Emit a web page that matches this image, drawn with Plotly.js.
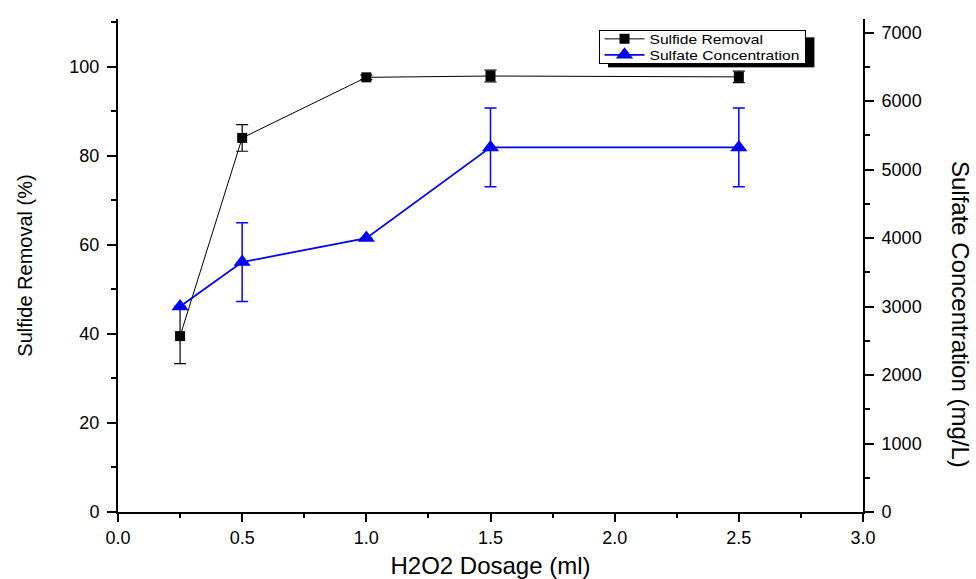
<!DOCTYPE html>
<html>
<head>
<meta charset="utf-8">
<script src="https://cdn.plot.ly/plotly-3.0.1.min.js"></script>
<style>
  html, body { margin: 0; padding: 0; background: #fff; }
  #chart { width: 976px; height: 579px; }
</style>
</head>
<body>
<div id="chart"></div>
<script>
// ---- data ----
const dosage = [0.25, 0.5, 1.0, 1.5, 2.5];               // H2O2 dosage (ml)
const sulfideRemoval = [39.5, 84.0, 97.6, 97.9, 97.7];    // %
const sulfideErr = [6.2, 3.0, 0.5, 1.3, 1.3];
const sulfateConc = [3000, 3650, 4000, 5325, 5325];       // mg/L
const sulfateErr = [0, 575, 0, 575, 575];
const seriesNames = ['Sulfide Removal', 'Sulfate Concentration'];
const xTitle = 'H2O2 Dosage (ml)';
const yTitle = 'Sulfide Removal (%)';
const y2Title = 'Sulfate Concentration (mg/L)';

const FONT = 'Liberation Sans, Arial, sans-serif';

const traces = [
  {
    x: dosage, y: sulfideRemoval, name: seriesNames[0],
    type: 'scatter', mode: 'lines+markers',
    line: { color: '#000000', width: 1 },
    marker: { symbol: 'square', size: 10, color: '#000000' },
    error_y: { type: 'data', array: sulfideErr, visible: true, color: '#000000', thickness: 1.2, width: 6 },
    xaxis: 'x', yaxis: 'y'
  },
  {
    x: dosage, y: sulfateConc, name: seriesNames[1],
    type: 'scatter', mode: 'lines+markers',
    line: { color: '#0000ff', width: 1.8 },
    marker: { symbol: 'triangle-up', size: 15, color: '#0000ff' },
    error_y: { type: 'data', array: sulfateErr, visible: true, color: '#0000ff', thickness: 1.5, width: 6 },
    xaxis: 'x', yaxis: 'y2'
  }
];

const axisCommon = {
  showgrid: false, zeroline: false, showline: true,
  linecolor: '#000', linewidth: 2, tickcolor: '#000', tickwidth: 2,
  tickfont: { family: FONT, size: 18, color: '#000' }
};

const layout = {
  width: 976, height: 579,
  margin: { l: 118, r: 113, t: 19, b: 67, pad: 0 },
  paper_bgcolor: '#fff', plot_bgcolor: '#fff',
  font: { family: FONT, color: '#000' },
  showlegend: true,
  legend: {
    x: 0.645, y: 0.978, xanchor: 'left', yanchor: 'top',
    bgcolor: '#fff', bordercolor: '#000', borderwidth: 1,
    font: { family: FONT, size: 13, color: '#000' },
    itemwidth: 40, tracegroupgap: 0
  },
  xaxis: Object.assign({}, axisCommon, {
    range: [0, 3], tick0: 0, dtick: 0.5, tickformat: '.1f',
    ticks: 'outside', ticklen: 8,
    minor: { dtick: 0.25, ticks: 'outside', ticklen: 4, tickwidth: 2, tickcolor: '#000', showgrid: false },
    title: { text: xTitle, font: { family: FONT, size: 24, color: '#000' }, standoff: 12 },
    anchor: 'y'
  }),
  xaxis2: Object.assign({}, axisCommon, {
    range: [0, 3], tick0: 0, dtick: 0.5, overlaying: 'x', side: 'top', anchor: 'y',
    ticks: 'inside', ticklen: 7, showticklabels: false,
    minor: { dtick: 0.25, ticks: 'inside', ticklen: 4, tickwidth: 2, tickcolor: '#000', showgrid: false }
  }),
  yaxis: Object.assign({}, axisCommon, {
    range: [0, 110.7], tick0: 0, dtick: 20,
    ticks: 'outside', ticklen: 9, ticklabelstandoff: 4,
    minor: { dtick: 10, ticks: 'outside', ticklen: 5, tickwidth: 2, tickcolor: '#000', showgrid: false },
    title: { text: yTitle, font: { family: FONT, size: 20, color: '#000' }, standoff: 31 },
    anchor: 'x'
  }),
  yaxis2: Object.assign({}, axisCommon, {
    range: [0, 7200], tick0: 0, dtick: 1000, overlaying: 'y', side: 'right', anchor: 'x',
    ticks: 'outside', ticklen: 9, ticklabelstandoff: 4,
    minor: { dtick: 500, ticks: 'outside', ticklen: 5, tickwidth: 2, tickcolor: '#000', showgrid: false }
  }),
  annotations: [{
    text: y2Title, xref: 'paper', yref: 'paper', x: 1.13, y: 0.40,
    xanchor: 'center', yanchor: 'middle', textangle: 90, showarrow: false,
    font: { family: FONT, size: 24, color: '#000' }
  }],
  shapes: []
};

Plotly.newPlot('chart', traces, layout, { displayModeBar: false, staticPlot: true }).then(function (gd) {
  const legend = gd.querySelector('.legend');
  if (!legend) return;
  // compact legend rows (Origin-style tight legend)
  const rowGap = 16, firstRow = 9, boxH = 33, stretch = 1.2;
  const items = legend.querySelectorAll('g.traces');
  let maxRight = 0;
  items.forEach(function (it, i) {
    const tr = it.getAttribute('transform') || '';
    const m = tr.match(/translate\(\s*([-\d.]+)[ ,]+([-\d.]+)\s*\)/);
    const tx = m ? parseFloat(m[1]) : 0;
    it.setAttribute('transform', 'translate(' + tx + ',' + (firstRow + i * rowGap) + ')');
    const txt = it.querySelector('text.legendtext');
    if (txt) {
      const x0 = parseFloat(txt.getAttribute('x')) || 0;
      txt.setAttribute('transform', 'translate(' + x0 + ',0) scale(' + stretch + ',1) translate(' + (-x0) + ',0)');
      const bb = txt.getBBox();
      maxRight = Math.max(maxRight, tx + x0 + (bb.x + bb.width - x0) * stretch);
    }
  });
  const bg = legend.querySelector('.bg');
  bg.setAttribute('height', boxH);
  const bgx = parseFloat(bg.getAttribute('x')) || 0;
  const newW = maxRight - bgx + 6;
  bg.setAttribute('width', newW);
  document.querySelectorAll('defs clipPath[id*="legend"] rect').forEach(function (r) {
    r.setAttribute('height', boxH);
    r.setAttribute('width', newW);
  });

  // drop shadow behind legend box
  const r = bg.getBoundingClientRect();
  const c = gd.getBoundingClientRect();
  const off = 9;
  const shadow = document.createElementNS('http://www.w3.org/2000/svg', 'rect');
  shadow.setAttribute('x', r.left - c.left + off);
  shadow.setAttribute('y', r.top - c.top + off - 2);
  shadow.setAttribute('width', r.width);
  shadow.setAttribute('height', boxH - 3);
  shadow.setAttribute('fill', '#000');
  legend.parentNode.insertBefore(shadow, legend);
});
</script>
</body>
</html>
